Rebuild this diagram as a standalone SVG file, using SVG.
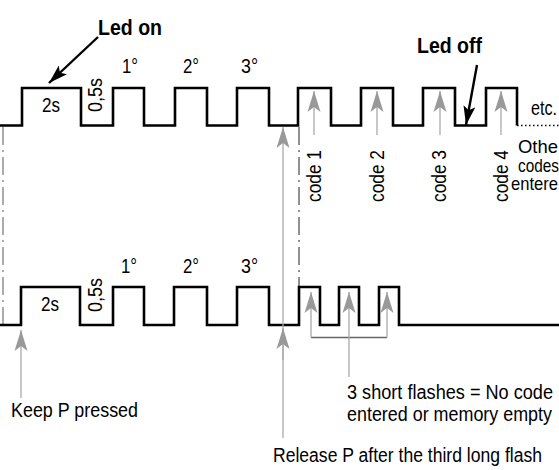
<svg xmlns="http://www.w3.org/2000/svg" width="559" height="470" viewBox="0 0 559 470">
  <style>
    .wave { fill: none; stroke: #000; stroke-width: 2.6; stroke-linejoin: miter; stroke-linecap: butt; }
    .t { font-family: "Liberation Sans", Arial, sans-serif; font-size: 20px; fill: #000; }
    .s { font-family: "Liberation Sans", Arial, sans-serif; font-size: 19px; fill: #000; }
    .b { font-family: "Liberation Sans", Arial, sans-serif; font-size: 22px; font-weight: bold; fill: #000; }
    .ga { stroke: #aaa; stroke-width: 1.3; fill: none; }
    .bk { stroke: #000; stroke-width: 2.4; fill: none; }
    .dd1 { stroke: #888; stroke-width: 1.4; stroke-dasharray: 18 5 2 5; fill: none; }
    .dd2 { stroke: #222; stroke-width: 1; stroke-dasharray: 18 5 2 5; fill: none; }
  </style>
  <defs>
    <marker id="gh" viewBox="-22 -7 23 14" refX="0" refY="0" markerWidth="23" markerHeight="14" markerUnits="userSpaceOnUse" orient="auto">
      <path d="M0,0 L-21,-6.5 L-16,0 L-21,6.5 Z" fill="#999"/>
    </marker>
    <marker id="bh" viewBox="-20 -6 21 12" refX="0" refY="0" markerWidth="21" markerHeight="12" markerUnits="userSpaceOnUse" orient="auto">
      <path d="M0,0 L-19,-6 L-15,0 L-19,6 Z" fill="#000"/>
    </marker>
  </defs>

  <!-- reference lines -->
  <g id="guides">
    <line class="dd1" x1="3" y1="127" x2="3" y2="324"/>
    <line class="dd2" x1="299" y1="127" x2="299" y2="287"/>
    <line x1="517" y1="125.5" x2="559" y2="125.5" stroke="#000" stroke-width="1.3" stroke-dasharray="1.5 2.5"/>
  </g>

  <g id="wave-top">
    <path class="wave" d="M0,125.5 H22 V88 H81 V125.5 H113 V88 H144 V125.5 H175 V88 H207 V125.5 H237 V88 H269 V125.5 H298 V88 H331 V125.5 H361 V88 H393 V125.5 H423 V88 H455 V125.5 H486 V88 H517 V125.5"/>
    <text class="t" x="42" y="112" textLength="18" lengthAdjust="spacingAndGlyphs">2s</text>
    <text class="t" transform="translate(102,112) rotate(-90)" textLength="34" lengthAdjust="spacingAndGlyphs">0,5s</text>
    <text class="t" x="122" y="73" textLength="16" lengthAdjust="spacingAndGlyphs">1°</text>
    <text class="t" x="183" y="73" textLength="16" lengthAdjust="spacingAndGlyphs">2°</text>
    <text class="t" x="241" y="73" textLength="17" lengthAdjust="spacingAndGlyphs">3°</text>
    <text class="t" transform="translate(321,202) rotate(-90)" textLength="52" lengthAdjust="spacingAndGlyphs">code 1</text>
    <text class="t" transform="translate(384,202) rotate(-90)" textLength="52" lengthAdjust="spacingAndGlyphs">code 2</text>
    <text class="t" transform="translate(446,202) rotate(-90)" textLength="52" lengthAdjust="spacingAndGlyphs">code 3</text>
    <text class="t" transform="translate(508,202) rotate(-90)" textLength="52" lengthAdjust="spacingAndGlyphs">code 4</text>
    <text class="t" x="531" y="115" textLength="26" lengthAdjust="spacingAndGlyphs">etc.</text>
    <text class="s" x="518" y="153" textLength="40" lengthAdjust="spacingAndGlyphs">Othe</text>
    <text class="s" x="518" y="172" textLength="41" lengthAdjust="spacingAndGlyphs">codes</text>
    <text class="s" x="511" y="190" textLength="47" lengthAdjust="spacingAndGlyphs">entere</text>
  </g>

  <g id="wave-bottom">
    <path class="wave" d="M0,325 H21 V287 H80 V325 H113 V287 H144 V325 H174 V287 H207 V325 H237 V287 H269 V325 H299 V287 H320 V325 H339 V287 H359 V325 H379 V287 H399 V325 H559"/>
    <text class="t" x="41" y="311" textLength="18" lengthAdjust="spacingAndGlyphs">2s</text>
    <text class="t" transform="translate(102,312) rotate(-90)" textLength="34" lengthAdjust="spacingAndGlyphs">0,5s</text>
    <text class="t" x="121" y="273" textLength="16" lengthAdjust="spacingAndGlyphs">1°</text>
    <text class="t" x="183" y="273" textLength="16" lengthAdjust="spacingAndGlyphs">2°</text>
    <text class="t" x="241" y="273" textLength="17" lengthAdjust="spacingAndGlyphs">3°</text>
  </g>

  <g id="labels">
    <text class="b" x="98" y="35" textLength="64" lengthAdjust="spacingAndGlyphs">Led on</text>
    <text class="b" x="417" y="53" textLength="65" lengthAdjust="spacingAndGlyphs">Led off</text>
    <text class="t" x="11" y="417" textLength="127" lengthAdjust="spacingAndGlyphs">Keep P pressed</text>
    <text class="t" x="347" y="399" textLength="206" lengthAdjust="spacingAndGlyphs">3 short flashes = No code</text>
    <text class="t" x="347" y="421" textLength="205" lengthAdjust="spacingAndGlyphs">entered or memory empty</text>
    <text class="t" x="273" y="462" textLength="269" lengthAdjust="spacingAndGlyphs">Release P after the third long flash</text>
  </g>

  <g id="connectors">
    <line class="bk" x1="98" y1="37" x2="49" y2="83" marker-end="url(#bh)"/>
    <line class="bk" x1="477" y1="65" x2="466" y2="125" marker-end="url(#bh)"/>
    <line class="ga" x1="314" y1="135" x2="314" y2="91" marker-end="url(#gh)"/>
    <line class="ga" x1="377" y1="135" x2="377" y2="91" marker-end="url(#gh)"/>
    <line class="ga" x1="440" y1="135" x2="440" y2="91" marker-end="url(#gh)"/>
    <line class="ga" x1="501" y1="135" x2="501" y2="91" marker-end="url(#gh)"/>
    <line class="ga" x1="283" y1="438" x2="283" y2="127" marker-end="url(#gh)"/>
    <line class="ga" x1="283" y1="360" x2="283" y2="328" marker-end="url(#gh)"/>
    <line class="ga" x1="21" y1="398" x2="21" y2="330" marker-end="url(#gh)"/>
    <line x1="311" y1="337.5" x2="387" y2="337.5" stroke="#666" stroke-width="1.6"/>
    <line class="ga" x1="311" y1="337.5" x2="311" y2="292" marker-end="url(#gh)"/>
    <line class="ga" x1="387" y1="337.5" x2="387" y2="292" marker-end="url(#gh)"/>
    <line class="ga" x1="349" y1="377" x2="349" y2="292" marker-end="url(#gh)"/>
  </g>
</svg>
